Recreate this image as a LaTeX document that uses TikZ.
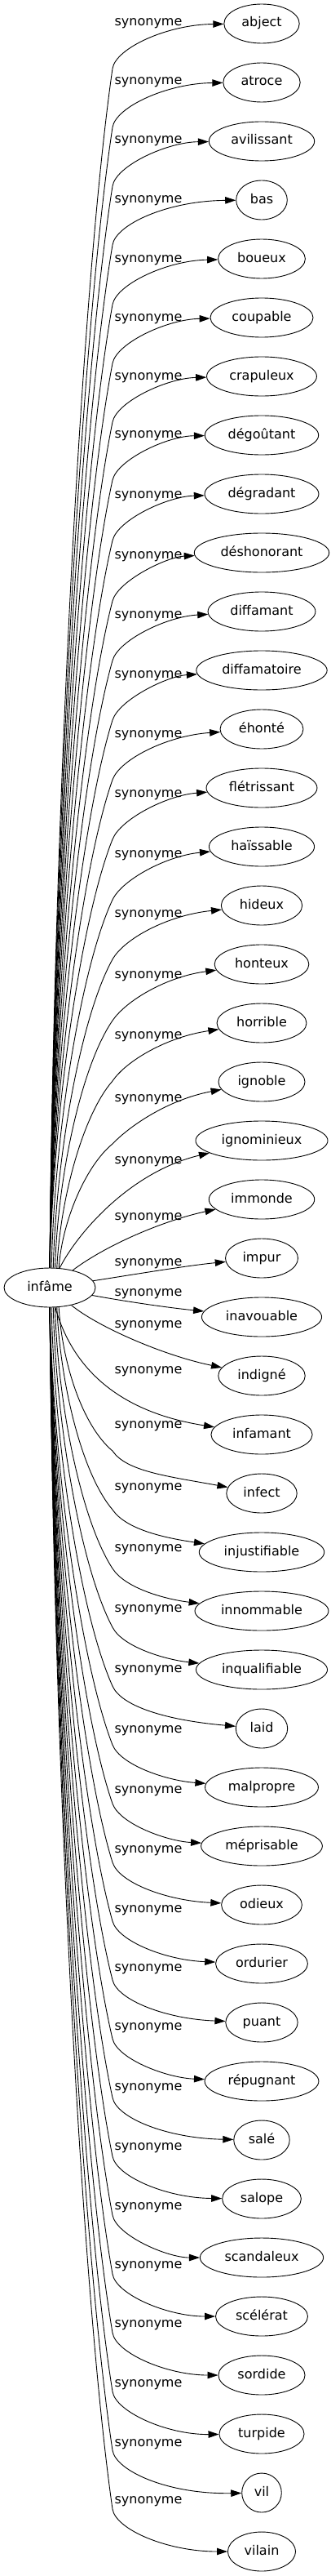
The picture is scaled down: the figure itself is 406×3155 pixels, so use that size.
\documentclass[tikz,border=0pt]{standalone}
\usepackage{fontspec}
\setmainfont{DejaVu Sans}
\usepackage{tikz}
\usetikzlibrary{shapes.geometric, arrows.meta}

\begin{document}
\begin{tikzpicture}[x=1pt, y=-1pt,
            word/.style={draw, ellipse, line width=0.9pt, font=\fontsize{16}{19}\selectfont,
                text height=12pt, text depth=4pt, inner xsep=8pt, inner ysep=0pt, minimum height=48pt},
            lbl/.style={font=\fontsize{16}{19}\selectfont, text height=12pt, text depth=4pt, inner sep=0pt},
            syn/.style={line width=0.9pt, -{Triangle[length=13pt, width=8.5pt]}}]
            \useasboundingbox (0,0) rectangle (406,3155);

            \node[word, minimum width=112pt] (infame) at (61,1577) {infâme};

            \node[word] (abject) at (321,29) {abject};
            \node[word] (atroce) at (321,101) {atroce};
            \node[word] (avilissant) at (321,173) {avilissant};
            \node[word] (bas) at (321,245) {bas};
            \node[word] (boueux) at (321,317) {boueux};
            \node[word] (coupable) at (321,389) {coupable};
            \node[word] (crapuleux) at (321,461) {crapuleux};
            \node[word] (degoutant) at (321,533) {dégoûtant};
            \node[word] (degradant) at (321,605) {dégradant};
            \node[word] (deshonorant) at (321,677) {déshonorant};
            \node[word] (diffamant) at (321,749) {diffamant};
            \node[word] (diffamatoire) at (321,821) {diffamatoire};
            \node[word] (ehonte) at (321,893) {éhonté};
            \node[word] (fletrissant) at (321,965) {flétrissant};
            \node[word] (haissable) at (321,1037) {haïssable};
            \node[word] (hideux) at (321,1109) {hideux};
            \node[word] (honteux) at (321,1181) {honteux};
            \node[word] (horrible) at (321,1253) {horrible};
            \node[word] (ignoble) at (321,1325) {ignoble};
            \node[word] (ignominieux) at (321,1397) {ignominieux};
            \node[word] (immonde) at (321,1469) {immonde};
            \node[word] (impur) at (321,1541) {impur};
            \node[word] (inavouable) at (321,1613) {inavouable};
            \node[word] (indigne) at (321,1685) {indigné};
            \node[word] (infamant) at (321,1757) {infamant};
            \node[word] (infect) at (321,1829) {infect};
            \node[word] (injustifiable) at (321,1901) {injustifiable};
            \node[word] (innommable) at (321,1973) {innommable};
            \node[word] (inqualifiable) at (321,2045) {inqualifiable};
            \node[word] (laid) at (321,2117) {laid};
            \node[word] (malpropre) at (321,2189) {malpropre};
            \node[word] (meprisable) at (321,2261) {méprisable};
            \node[word] (odieux) at (321,2333) {odieux};
            \node[word] (ordurier) at (321,2405) {ordurier};
            \node[word] (puant) at (321,2477) {puant};
            \node[word] (repugnant) at (321,2549) {répugnant};
            \node[word] (sale) at (321,2621) {salé};
            \node[word] (salope) at (321,2693) {salope};
            \node[word] (scandaleux) at (321,2765) {scandaleux};
            \node[word] (scelerat) at (321,2837) {scélérat};
            \node[word] (sordide) at (321,2909) {sordide};
            \node[word] (turpide) at (321,2981) {turpide};
            \node[word] (vil) at (321,3053) {vil};
            \node[word] (vilain) at (321,3125) {vilain};

            \node[lbl] (l1) at (182,28) {synonyme};
            \node[lbl] (l2) at (182,100) {synonyme};
            \node[lbl] (l3) at (182,172) {synonyme};
            \node[lbl] (l4) at (182,244) {synonyme};
            \node[lbl] (l5) at (182,317) {synonyme};
            \node[lbl] (l6) at (182,389) {synonyme};
            \node[lbl] (l7) at (182,461) {synonyme};
            \node[lbl] (l8) at (182,532) {synonyme};
            \node[lbl] (l9) at (182,606) {synonyme};
            \node[lbl] (l10) at (182,680) {synonyme};
            \node[lbl] (l11) at (182,753) {synonyme};
            \node[lbl] (l12) at (182,826) {synonyme};
            \node[lbl] (l13) at (182,899) {synonyme};
            \node[lbl] (l14) at (182,972) {synonyme};
            \node[lbl] (l15) at (182,1046) {synonyme};
            \node[lbl] (l16) at (182,1119) {synonyme};
            \node[lbl] (l17) at (182,1194) {synonyme};
            \node[lbl] (l18) at (182,1268) {synonyme};
            \node[lbl] (l19) at (182,1345) {synonyme};
            \node[lbl] (l20) at (182,1421) {synonyme};
            \node[lbl] (l21) at (182,1490) {synonyme};
            \node[lbl] (l22) at (182,1546) {synonyme};
            \node[lbl] (l23) at (182,1583) {synonyme};
            \node[lbl] (l24) at (182,1622) {synonyme};
            \node[lbl] (l25) at (182,1678) {synonyme};
            \node[lbl] (l26) at (182,1745) {synonyme};
            \node[lbl] (l27) at (182,1821) {synonyme};
            \node[lbl] (l28) at (182,1896) {synonyme};
            \node[lbl] (l29) at (182,1970) {synonyme};
            \node[lbl] (l30) at (182,2044) {synonyme};
            \node[lbl] (l31) at (182,2118) {synonyme};
            \node[lbl] (l32) at (182,2192) {synonyme};
            \node[lbl] (l33) at (182,2265) {synonyme};
            \node[lbl] (l34) at (182,2338) {synonyme};
            \node[lbl] (l35) at (182,2410) {synonyme};
            \node[lbl] (l36) at (182,2482) {synonyme};
            \node[lbl] (l37) at (182,2556) {synonyme};
            \node[lbl] (l38) at (182,2629) {synonyme};
            \node[lbl] (l39) at (182,2702) {synonyme};
            \node[lbl] (l40) at (182,2774) {synonyme};
            \node[lbl] (l41) at (182,2846) {synonyme};
            \node[lbl] (l42) at (182,2919) {synonyme};
            \node[lbl] (l43) at (182,2992) {synonyme};
            \node[lbl] (l44) at (182,3062) {synonyme};

            \draw[syn] (infame.north) .. controls (66,999) and (100,348) .. (138,84) .. controls (142,59) and (205,30) .. (abject);
            \draw[syn] (infame.north) .. controls (66,1026) and (100,407) .. (138,156) .. controls (142,131) and (205,102) .. (atroce);
            \draw[syn] (infame.north) .. controls (66,1053) and (100,467) .. (138,228) .. controls (142,203) and (205,174) .. (avilissant);
            \draw[syn] (infame.north) .. controls (66,1081) and (100,526) .. (138,300) .. controls (142,275) and (205,246) .. (bas);
            \draw[syn] (infame.north) .. controls (66,1108) and (100,585) .. (138,373) .. controls (143,348) and (205,319) .. (boueux);
            \draw[syn] (infame.north) .. controls (66,1135) and (100,644) .. (138,445) .. controls (143,420) and (205,391) .. (coupable);
            \draw[syn] (infame.north) .. controls (66,1162) and (100,704) .. (138,517) .. controls (143,492) and (205,463) .. (crapuleux);
            \draw[syn] (infame.north) .. controls (66,1189) and (100,762) .. (138,588) .. controls (144,563) and (205,534) .. (degoutant);
            \draw[syn] (infame.north) .. controls (66,1217) and (100,822) .. (138,662) .. controls (144,637) and (205,608) .. (degradant);
            \draw[syn] (infame.north) .. controls (66,1245) and (100,883) .. (138,736) .. controls (145,711) and (205,682) .. (deshonorant);
            \draw[syn] (infame.north) .. controls (66,1272) and (100,943) .. (138,809) .. controls (145,784) and (205,755) .. (diffamant);
            \draw[syn] (infame.north) .. controls (66,1300) and (100,1003) .. (138,882) .. controls (146,857) and (205,828) .. (diffamatoire);
            \draw[syn] (infame.north) .. controls (66,1328) and (100,1063) .. (138,955) .. controls (147,930) and (205,901) .. (ehonte);
            \draw[syn] (infame.north) .. controls (66,1355) and (100,1123) .. (138,1028) .. controls (148,1003) and (205,974) .. (fletrissant);
            \draw[syn] (infame.85) .. controls (67,1383) and (100,1183) .. (138,1102) .. controls (150,1077) and (205,1048) .. (haissable);
            \draw[syn] (infame.80) .. controls (69,1411) and (100,1243) .. (138,1175) .. controls (152,1150) and (205,1121) .. (hideux);
            \draw[syn] (infame.75) .. controls (71,1439) and (100,1305) .. (138,1250) .. controls (155,1225) and (205,1196) .. (honteux);
            \draw[syn] (infame.70) .. controls (74,1467) and (102,1365) .. (138,1324) .. controls (155,1299) and (205,1270) .. (horrible);
            \draw[syn] (infame.65) .. controls (76,1496) and (105,1428) .. (138,1401) .. controls (158,1380) and (205,1347) .. (ignoble);
            \draw[syn] (infame) .. controls (95,1510) and (160,1435) .. (ignominieux);
            \draw[syn] (infame) .. controls (130,1525) and (200,1495) .. (immonde);
            \draw[syn] (infame) .. controls (170,1560) and (230,1550) .. (impur);
            \draw[syn] (infame) .. controls (160,1595) and (210,1602) .. (inavouable);
            \draw[syn] (infame) .. controls (120,1625) and (200,1660) .. (indigne);
            \draw[syn] (infame) .. controls (90,1680) and (150,1730) .. (infamant);
            \draw[syn] (infame.-65) .. controls (76,1667) and (100,1745) .. (138,1777) .. controls (155,1802) and (205,1808) .. (infect);
            \draw[syn] (infame.-70) .. controls (74,1695) and (100,1804) .. (138,1849) .. controls (155,1874) and (205,1884) .. (injustifiable);
            \draw[syn] (infame.-75) .. controls (71,1722) and (100,1863) .. (138,1921) .. controls (154,1946) and (205,1959) .. (innommable);
            \draw[syn] (infame.-80) .. controls (69,1749) and (100,1922) .. (138,1993) .. controls (151,2018) and (205,2033) .. (inqualifiable);
            \draw[syn] (infame.-85) .. controls (67,1776) and (100,1981) .. (138,2065) .. controls (149,2090) and (205,2107) .. (laid);
            \draw[syn] (infame.south) .. controls (66,1803) and (100,2040) .. (138,2137) .. controls (148,2162) and (205,2181) .. (malpropre);
            \draw[syn] (infame.south) .. controls (66,1830) and (100,2100) .. (138,2209) .. controls (147,2234) and (205,2255) .. (meprisable);
            \draw[syn] (infame.south) .. controls (66,1857) and (100,2159) .. (138,2281) .. controls (146,2306) and (205,2328) .. (odieux);
            \draw[syn] (infame.south) .. controls (66,1885) and (100,2218) .. (138,2353) .. controls (145,2378) and (205,2401) .. (ordurier);
            \draw[syn] (infame.south) .. controls (66,1912) and (100,2277) .. (138,2425) .. controls (144,2450) and (205,2473) .. (puant);
            \draw[syn] (infame.south) .. controls (66,1939) and (100,2336) .. (138,2497) .. controls (144,2522) and (205,2545) .. (repugnant);
            \draw[syn] (infame.south) .. controls (66,1966) and (100,2395) .. (138,2569) .. controls (143,2594) and (205,2619) .. (sale);
            \draw[syn] (infame.south) .. controls (66,1993) and (100,2454) .. (138,2641) .. controls (143,2666) and (205,2692) .. (salope);
            \draw[syn] (infame.south) .. controls (66,2020) and (100,2513) .. (138,2713) .. controls (143,2738) and (205,2765) .. (scandaleux);
            \draw[syn] (infame.south) .. controls (66,2047) and (100,2572) .. (138,2785) .. controls (142,2810) and (205,2837) .. (scelerat);
            \draw[syn] (infame.south) .. controls (66,2075) and (100,2631) .. (138,2857) .. controls (142,2882) and (205,2909) .. (sordide);
            \draw[syn] (infame.south) .. controls (66,2102) and (100,2690) .. (138,2929) .. controls (142,2954) and (205,2982) .. (turpide);
            \draw[syn] (infame.south) .. controls (66,2129) and (100,2749) .. (138,3001) .. controls (142,3026) and (205,3055) .. (vil);
            \draw[syn] (infame.south) .. controls (66,2156) and (100,2808) .. (138,3073) .. controls (142,3098) and (205,3125) .. (vilain);
\end{tikzpicture}
\end{document}
